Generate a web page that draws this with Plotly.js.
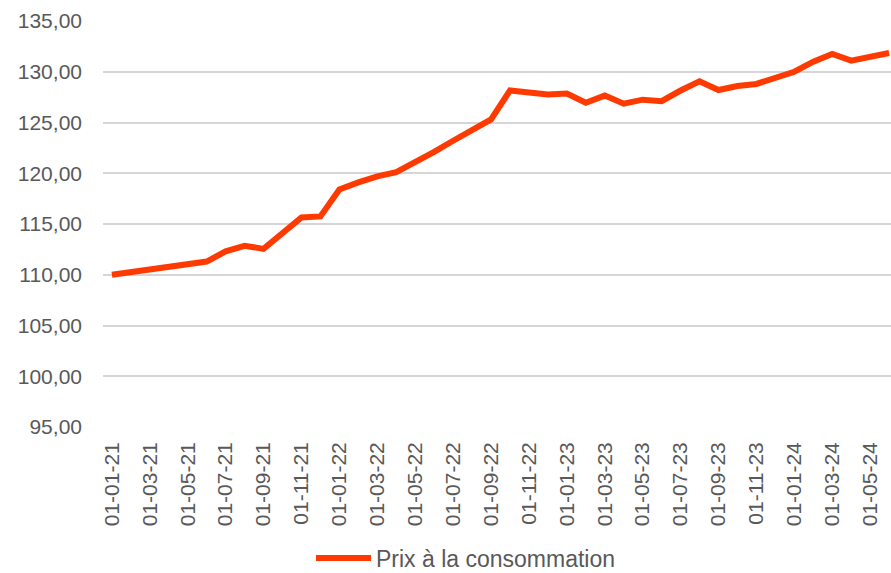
<!DOCTYPE html>
<html>
<head>
<meta charset="utf-8">
<script src="https://cdn.plot.ly/plotly-3.0.1.min.js"></script>
<style>html,body{margin:0;padding:0;background:#fff;}#chart{width:891px;height:573px;}</style>
</head>
<body>
<div id="chart"></div>
<script>
const months = [
  "01-01-21","01-02-21","01-03-21","01-04-21","01-05-21","01-06-21","01-07-21","01-08-21","01-09-21","01-10-21","01-11-21","01-12-21",
  "01-01-22","01-02-22","01-03-22","01-04-22","01-05-22","01-06-22","01-07-22","01-08-22","01-09-22","01-10-22","01-11-22","01-12-22",
  "01-01-23","01-02-23","01-03-23","01-04-23","01-05-23","01-06-23","01-07-23","01-08-23","01-09-23","01-10-23","01-11-23","01-12-23",
  "01-01-24","01-02-24","01-03-24","01-04-24","01-05-24","01-06-24"
];
const prix = [
  110.0, 110.25, 110.5, 110.9, 111.05, 111.3, 112.3, 112.85, 112.55, 114.1, 115.65, 115.75,
  118.4, 119.1, 119.7, 120.1, 121.05, 122.1, 123.2, 124.2, 125.3, 128.15, 127.9, 127.75,
  127.85, 126.95, 127.65, 126.85, 127.25, 127.1, 128.15, 129.05, 128.2, 128.6, 128.8, 129.35,
  130.0, 131.0, 131.75, 131.1, 131.55, 131.85
];
const seriesName = "Prix à la consommation";
const tickLabels = months.filter((m, i) => i % 2 === 0);

const textColor = "#595959";
const font = "Liberation Sans, Arial, sans-serif";

Plotly.newPlot("chart", [{
  type: "scatter",
  mode: "lines",
  x: months,
  y: prix,
  name: seriesName,
  line: {color: "#FF3A00", width: 6, shape: "linear"},
  hoverinfo: "x+y"
}], {
  width: 891,
  height: 573,
  margin: {l: 103, r: 0, t: 21, b: 146},
  paper_bgcolor: "#ffffff",
  plot_bgcolor: "#ffffff",
  separators: ", ",
  showlegend: true,
  font: {family: font, color: textColor},
  xaxis: {
    type: "category",
    categoryorder: "array",
    categoryarray: months,
    tickmode: "array",
    tickvals: tickLabels,
    ticktext: tickLabels,
    tickangle: -90,
    tickfont: {size: 21, color: textColor, family: font},
    range: [-0.47, 41.1],
    showgrid: false,
    zeroline: false,
    showline: false,
    ticks: "",
    ticklabelstandoff: 10
  },
  yaxis: {
    range: [95, 135],
    tickmode: "linear",
    tick0: 95,
    dtick: 5,
    tickformat: ".2f",
    tickfont: {size: 21, color: textColor, family: font},
    showgrid: true,
    gridcolor: "#d6d6d6",
    gridwidth: 2,
    zeroline: false,
    showline: false,
    ticks: "",
    ticklabelstandoff: 20
  },
  legend: {
    orientation: "h",
    xref: "container",
    yref: "container",
    x: 0.523,
    xanchor: "center",
    y: 0.026,
    yanchor: "middle",
    font: {size: 23, color: textColor, family: font},
    itemwidth: 55
  }
}, {displayModeBar: false, staticPlot: true});
</script>
</body>
</html>
